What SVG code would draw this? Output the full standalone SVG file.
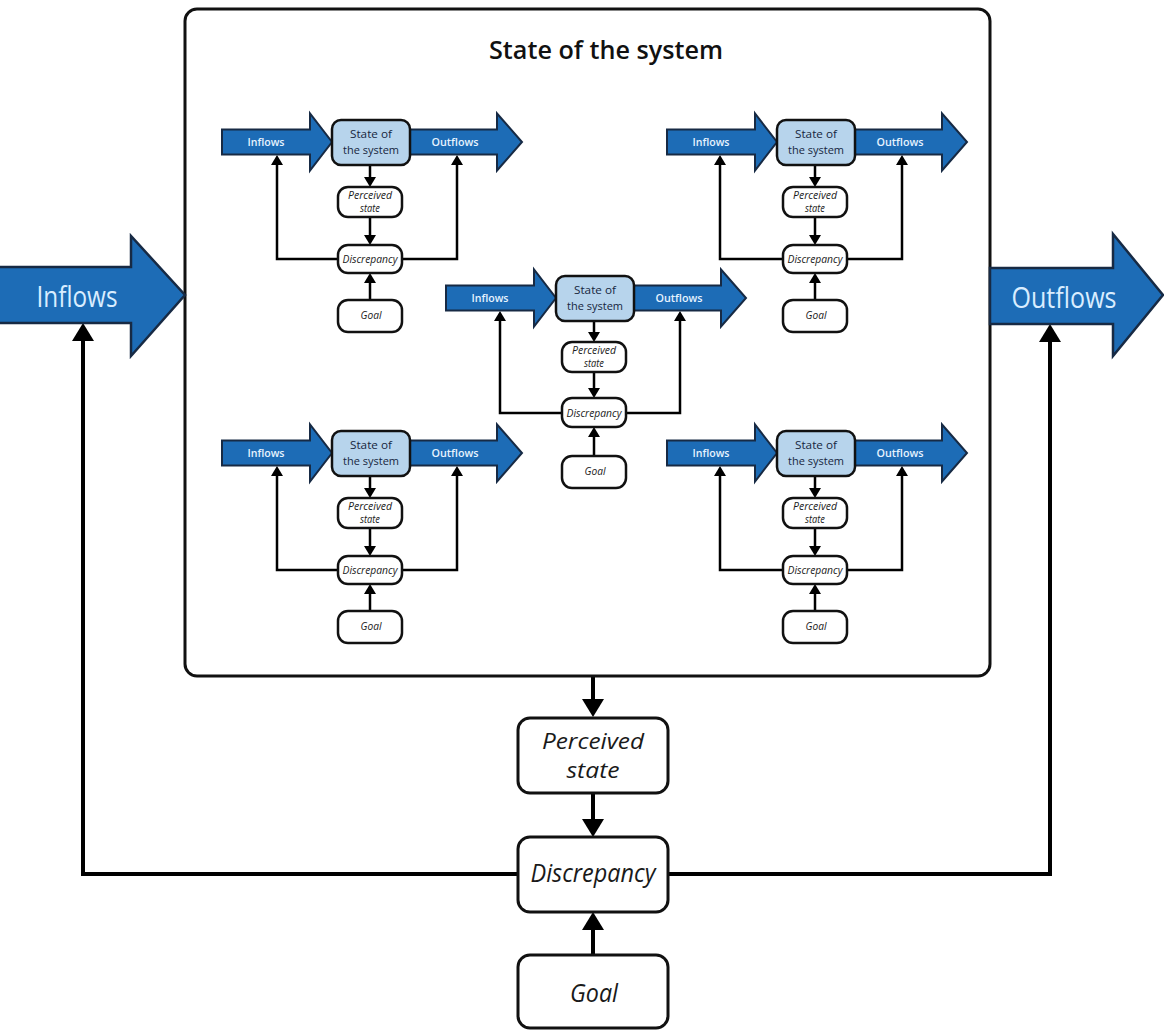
<svg xmlns="http://www.w3.org/2000/svg" width="1164" height="1031" viewBox="0 0 1164 1031">
  <style>
    .flow { fill: #1d6cb6; stroke: #172a44; stroke-width: 2.5; stroke-linejoin: miter; }
    .flow-s { fill: #1d6cb6; stroke: #172a44; stroke-width: 2; stroke-linejoin: miter; }
    .box { fill: #ffffff; stroke: #111111; stroke-width: 3; }
    .box-s { fill: #ffffff; stroke: #111111; stroke-width: 2.5; }
    .state-s { fill: #b7d4ec; stroke: #111111; stroke-width: 2.5; }
    .frame { fill: #ffffff; stroke: #111111; stroke-width: 3; }
    .link { fill: none; stroke: #000000; stroke-width: 4; }
    .link-s { fill: none; stroke: #000000; stroke-width: 2.5; }
    .flow-label { font-family: "Open Sans", "Noto Sans", sans-serif; fill: #d9edff; text-anchor: middle; }
    .flow-label-s { font-family: "Open Sans", "Noto Sans", sans-serif; fill: #e6f3ff; text-anchor: middle; font-size: 11px; font-weight: 600; }
    .node-label { font-family: "Open Sans", "Noto Sans", sans-serif; fill: #1a1a1a; text-anchor: middle; }
    .it { font-style: italic; }
    .state-label { font-family: "Open Sans", "Noto Sans", sans-serif; fill: #16263e; text-anchor: middle; font-size: 10.5px; font-weight: 500; }
    .title { font-family: "Open Sans", "Noto Sans", sans-serif; fill: #111111; text-anchor: middle; font-size: 26px; font-weight: 600; }
  </style>
  <defs>
    <marker id="head" viewBox="0 0 18 22" markerWidth="18" markerHeight="22" markerUnits="userSpaceOnUse" refX="6" refY="11" orient="auto">
      <path d="M0,0 L18,11 L0,22 Z" fill="#000000"/>
    </marker>
    <marker id="head-s" viewBox="0 0 10 12" markerWidth="10" markerHeight="12" markerUnits="userSpaceOnUse" refX="3" refY="6" orient="auto">
      <path d="M0,0 L10,6 L0,12 Z" fill="#000000"/>
    </marker>
  </defs>

  <rect width="1164" height="1031" fill="#ffffff"/>

  <!-- outer loop: connectors -->
  <g id="connectors">
    <path class="link" d="M593,677 V705" marker-end="url(#head)"/>
    <path class="link" d="M593,793 V825" marker-end="url(#head)"/>
    <path class="link" d="M593,955 V924" marker-end="url(#head)"/>
    <path class="link" d="M518,874 H83 V335" marker-end="url(#head)"/>
    <path class="link" d="M668,874 H1050 V336" marker-end="url(#head)"/>
  </g>

  <!-- outer stock: the system as a whole -->
  <g id="system">
    <rect class="frame" x="185" y="9" width="805" height="667" rx="12"/>
    <text class="title" x="606" y="59" textLength="234" lengthAdjust="spacingAndGlyphs">State of the system</text>
  </g>

  <g id="inflows">
    <path class="flow" d="M-2,267 H131 V236 L185,295 L131,356 V323 H-2 Z"/>
    <text class="flow-label" x="77" y="307" font-size="30" textLength="81" lengthAdjust="spacingAndGlyphs">Inflows</text>
  </g>

  <g id="outflows">
    <path class="flow" d="M990,268 H1113 V234 L1163,295 L1113,356 V324 H990 Z"/>
    <text class="flow-label" x="1064" y="308" font-size="30" textLength="105" lengthAdjust="spacingAndGlyphs">Outflows</text>
  </g>

  <g id="perceived-state">
    <rect class="box" x="518" y="718" width="150" height="75" rx="12"/>
    <text class="node-label it" x="593" y="749" font-size="22" textLength="102" lengthAdjust="spacingAndGlyphs">Perceived</text>
    <text class="node-label it" x="593" y="778" font-size="22" textLength="53" lengthAdjust="spacingAndGlyphs">state</text>
  </g>

  <g id="discrepancy">
    <rect class="box" x="518" y="837" width="150" height="75" rx="12"/>
    <text class="node-label it" x="593" y="882" font-size="25" textLength="125" lengthAdjust="spacingAndGlyphs">Discrepancy</text>
  </g>

  <g id="goal">
    <rect class="box" x="518" y="955" width="150" height="73" rx="12"/>
    <text class="node-label it" x="594" y="1002" font-size="25" textLength="48" lengthAdjust="spacingAndGlyphs">Goal</text>
  </g>

  <!-- nested subsystems, each drawn around its own origin (stock centre x, flow axis y) -->
  <g id="sub-top-left" transform="translate(370,142)">
    <g class="sub-connectors">
      <path class="link-s" d="M0,23 V38" marker-end="url(#head-s)"/>
      <path class="link-s" d="M0,75 V96" marker-end="url(#head-s)"/>
      <path class="link-s" d="M0,158 V138" marker-end="url(#head-s)"/>
      <path class="link-s" d="M-32,117 H-93 V20" marker-end="url(#head-s)"/>
      <path class="link-s" d="M32,117 H87 V20" marker-end="url(#head-s)"/>
    </g>
    <g id="sub-top-left-inflows"><path class="flow-s" d="M-148,-12.5 H-60 V-28.5 L-38,0 L-60,28.5 V12.5 H-148 Z"/><text class="flow-label-s" x="-104" y="4" textLength="37" lengthAdjust="spacingAndGlyphs">Inflows</text></g>
    <g id="sub-top-left-outflows"><path class="flow-s" d="M40,-12.5 H127 V-28.5 L152,0 L127,28.5 V12.5 H40 Z"/><text class="flow-label-s" x="85" y="4" textLength="47" lengthAdjust="spacingAndGlyphs">Outflows</text></g>
    <g id="sub-top-left-state"><rect class="state-s" x="-38" y="-22" width="78" height="45" rx="9"/><text class="state-label" x="1" y="-4" textLength="42" lengthAdjust="spacingAndGlyphs">State of</text><text class="state-label" x="1" y="12" textLength="56" lengthAdjust="spacingAndGlyphs">the system</text></g>
    <g id="sub-top-left-perceived"><rect class="box-s" x="-32" y="45" width="64" height="30" rx="10"/><text class="node-label it" x="0" y="57" font-size="10" textLength="44" lengthAdjust="spacingAndGlyphs">Perceived</text><text class="node-label it" x="0" y="70" font-size="10" textLength="20" lengthAdjust="spacingAndGlyphs">state</text></g>
    <g id="sub-top-left-discrepancy"><rect class="box-s" x="-32" y="103" width="64" height="28" rx="10"/><text class="node-label it" x="0" y="120.5" font-size="10" textLength="55" lengthAdjust="spacingAndGlyphs">Discrepancy</text></g>
    <g id="sub-top-left-goal"><rect class="box-s" x="-32" y="158" width="64" height="32" rx="10"/><text class="node-label it" x="1" y="177" font-size="10" textLength="21" lengthAdjust="spacingAndGlyphs">Goal</text></g>
  </g>

  <g id="sub-top-right" transform="translate(815,142)">
    <g class="sub-connectors">
      <path class="link-s" d="M0,23 V38" marker-end="url(#head-s)"/>
      <path class="link-s" d="M0,75 V96" marker-end="url(#head-s)"/>
      <path class="link-s" d="M0,158 V138" marker-end="url(#head-s)"/>
      <path class="link-s" d="M-32,117 H-95 V20" marker-end="url(#head-s)"/>
      <path class="link-s" d="M32,117 H87 V20" marker-end="url(#head-s)"/>
    </g>
    <g id="sub-top-right-inflows"><path class="flow-s" d="M-148,-12.5 H-60 V-28.5 L-38,0 L-60,28.5 V12.5 H-148 Z"/><text class="flow-label-s" x="-104" y="4" textLength="37" lengthAdjust="spacingAndGlyphs">Inflows</text></g>
    <g id="sub-top-right-outflows"><path class="flow-s" d="M40,-12.5 H127 V-28.5 L152,0 L127,28.5 V12.5 H40 Z"/><text class="flow-label-s" x="85" y="4" textLength="47" lengthAdjust="spacingAndGlyphs">Outflows</text></g>
    <g id="sub-top-right-state"><rect class="state-s" x="-38" y="-22" width="78" height="45" rx="9"/><text class="state-label" x="1" y="-4" textLength="42" lengthAdjust="spacingAndGlyphs">State of</text><text class="state-label" x="1" y="12" textLength="56" lengthAdjust="spacingAndGlyphs">the system</text></g>
    <g id="sub-top-right-perceived"><rect class="box-s" x="-32" y="45" width="64" height="30" rx="10"/><text class="node-label it" x="0" y="57" font-size="10" textLength="44" lengthAdjust="spacingAndGlyphs">Perceived</text><text class="node-label it" x="0" y="70" font-size="10" textLength="20" lengthAdjust="spacingAndGlyphs">state</text></g>
    <g id="sub-top-right-discrepancy"><rect class="box-s" x="-32" y="103" width="64" height="28" rx="10"/><text class="node-label it" x="0" y="120.5" font-size="10" textLength="55" lengthAdjust="spacingAndGlyphs">Discrepancy</text></g>
    <g id="sub-top-right-goal"><rect class="box-s" x="-32" y="158" width="64" height="32" rx="10"/><text class="node-label it" x="1" y="177" font-size="10" textLength="21" lengthAdjust="spacingAndGlyphs">Goal</text></g>
  </g>

  <g id="sub-centre" transform="translate(594,298)">
    <g class="sub-connectors">
      <path class="link-s" d="M0,23 V37" marker-end="url(#head-s)"/>
      <path class="link-s" d="M0,74 V93" marker-end="url(#head-s)"/>
      <path class="link-s" d="M0,158 V136" marker-end="url(#head-s)"/>
      <path class="link-s" d="M-32,115 H-94 V20" marker-end="url(#head-s)"/>
      <path class="link-s" d="M32,115 H86 V20" marker-end="url(#head-s)"/>
    </g>
    <g id="sub-centre-inflows"><path class="flow-s" d="M-148,-12.5 H-60 V-28.5 L-38,0 L-60,28.5 V12.5 H-148 Z"/><text class="flow-label-s" x="-104" y="4" textLength="37" lengthAdjust="spacingAndGlyphs">Inflows</text></g>
    <g id="sub-centre-outflows"><path class="flow-s" d="M40,-12.5 H127 V-28.5 L152,0 L127,28.5 V12.5 H40 Z"/><text class="flow-label-s" x="85" y="4" textLength="47" lengthAdjust="spacingAndGlyphs">Outflows</text></g>
    <g id="sub-centre-state"><rect class="state-s" x="-38" y="-22" width="78" height="45" rx="9"/><text class="state-label" x="1" y="-4" textLength="42" lengthAdjust="spacingAndGlyphs">State of</text><text class="state-label" x="1" y="12" textLength="56" lengthAdjust="spacingAndGlyphs">the system</text></g>
    <g id="sub-centre-perceived"><rect class="box-s" x="-32" y="44" width="64" height="30" rx="10"/><text class="node-label it" x="0" y="56" font-size="10" textLength="44" lengthAdjust="spacingAndGlyphs">Perceived</text><text class="node-label it" x="0" y="69" font-size="10" textLength="20" lengthAdjust="spacingAndGlyphs">state</text></g>
    <g id="sub-centre-discrepancy"><rect class="box-s" x="-32" y="100" width="64" height="29" rx="10"/><text class="node-label it" x="0" y="118.5" font-size="10" textLength="55" lengthAdjust="spacingAndGlyphs">Discrepancy</text></g>
    <g id="sub-centre-goal"><rect class="box-s" x="-32" y="158" width="64" height="32" rx="10"/><text class="node-label it" x="1" y="177" font-size="10" textLength="21" lengthAdjust="spacingAndGlyphs">Goal</text></g>
  </g>

  <g id="sub-bottom-left" transform="translate(370,453)">
    <g class="sub-connectors">
      <path class="link-s" d="M0,23 V38" marker-end="url(#head-s)"/>
      <path class="link-s" d="M0,75 V96" marker-end="url(#head-s)"/>
      <path class="link-s" d="M0,158 V138" marker-end="url(#head-s)"/>
      <path class="link-s" d="M-32,117 H-93 V20" marker-end="url(#head-s)"/>
      <path class="link-s" d="M32,117 H87 V20" marker-end="url(#head-s)"/>
    </g>
    <g id="sub-bottom-left-inflows"><path class="flow-s" d="M-148,-12.5 H-60 V-28.5 L-38,0 L-60,28.5 V12.5 H-148 Z"/><text class="flow-label-s" x="-104" y="4" textLength="37" lengthAdjust="spacingAndGlyphs">Inflows</text></g>
    <g id="sub-bottom-left-outflows"><path class="flow-s" d="M40,-12.5 H127 V-28.5 L152,0 L127,28.5 V12.5 H40 Z"/><text class="flow-label-s" x="85" y="4" textLength="47" lengthAdjust="spacingAndGlyphs">Outflows</text></g>
    <g id="sub-bottom-left-state"><rect class="state-s" x="-38" y="-22" width="78" height="45" rx="9"/><text class="state-label" x="1" y="-4" textLength="42" lengthAdjust="spacingAndGlyphs">State of</text><text class="state-label" x="1" y="12" textLength="56" lengthAdjust="spacingAndGlyphs">the system</text></g>
    <g id="sub-bottom-left-perceived"><rect class="box-s" x="-32" y="45" width="64" height="30" rx="10"/><text class="node-label it" x="0" y="57" font-size="10" textLength="44" lengthAdjust="spacingAndGlyphs">Perceived</text><text class="node-label it" x="0" y="70" font-size="10" textLength="20" lengthAdjust="spacingAndGlyphs">state</text></g>
    <g id="sub-bottom-left-discrepancy"><rect class="box-s" x="-32" y="103" width="64" height="28" rx="10"/><text class="node-label it" x="0" y="120.5" font-size="10" textLength="55" lengthAdjust="spacingAndGlyphs">Discrepancy</text></g>
    <g id="sub-bottom-left-goal"><rect class="box-s" x="-32" y="158" width="64" height="32" rx="10"/><text class="node-label it" x="1" y="177" font-size="10" textLength="21" lengthAdjust="spacingAndGlyphs">Goal</text></g>
  </g>

  <g id="sub-bottom-right" transform="translate(815,453)">
    <g class="sub-connectors">
      <path class="link-s" d="M0,23 V38" marker-end="url(#head-s)"/>
      <path class="link-s" d="M0,75 V96" marker-end="url(#head-s)"/>
      <path class="link-s" d="M0,158 V138" marker-end="url(#head-s)"/>
      <path class="link-s" d="M-32,117 H-95 V20" marker-end="url(#head-s)"/>
      <path class="link-s" d="M32,117 H87 V20" marker-end="url(#head-s)"/>
    </g>
    <g id="sub-bottom-right-inflows"><path class="flow-s" d="M-148,-12.5 H-60 V-28.5 L-38,0 L-60,28.5 V12.5 H-148 Z"/><text class="flow-label-s" x="-104" y="4" textLength="37" lengthAdjust="spacingAndGlyphs">Inflows</text></g>
    <g id="sub-bottom-right-outflows"><path class="flow-s" d="M40,-12.5 H127 V-28.5 L152,0 L127,28.5 V12.5 H40 Z"/><text class="flow-label-s" x="85" y="4" textLength="47" lengthAdjust="spacingAndGlyphs">Outflows</text></g>
    <g id="sub-bottom-right-state"><rect class="state-s" x="-38" y="-22" width="78" height="45" rx="9"/><text class="state-label" x="1" y="-4" textLength="42" lengthAdjust="spacingAndGlyphs">State of</text><text class="state-label" x="1" y="12" textLength="56" lengthAdjust="spacingAndGlyphs">the system</text></g>
    <g id="sub-bottom-right-perceived"><rect class="box-s" x="-32" y="45" width="64" height="30" rx="10"/><text class="node-label it" x="0" y="57" font-size="10" textLength="44" lengthAdjust="spacingAndGlyphs">Perceived</text><text class="node-label it" x="0" y="70" font-size="10" textLength="20" lengthAdjust="spacingAndGlyphs">state</text></g>
    <g id="sub-bottom-right-discrepancy"><rect class="box-s" x="-32" y="103" width="64" height="28" rx="10"/><text class="node-label it" x="0" y="120.5" font-size="10" textLength="55" lengthAdjust="spacingAndGlyphs">Discrepancy</text></g>
    <g id="sub-bottom-right-goal"><rect class="box-s" x="-32" y="158" width="64" height="32" rx="10"/><text class="node-label it" x="1" y="177" font-size="10" textLength="21" lengthAdjust="spacingAndGlyphs">Goal</text></g>
  </g>
</svg>
